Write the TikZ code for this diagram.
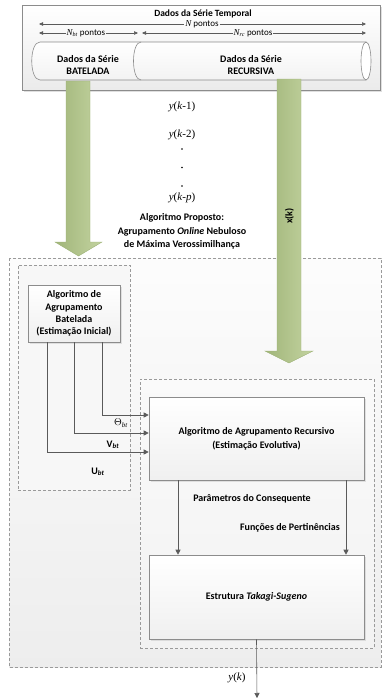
\documentclass[tikz,border=0pt]{standalone}
\usepackage{fontspec}
\setmainfont{Carlito}
\newfontfamily\tms{Liberation Serif}
\usetikzlibrary{arrows.meta,shadows}
\definecolor{lineg}{HTML}{5A5A5A}
\definecolor{boxb}{HTML}{8C8C8C}
\definecolor{dashg}{HTML}{9A9A9A}
\definecolor{grn}{HTML}{B4C78C}
\definecolor{grnl}{HTML}{C3D3A0}
\definecolor{grnd}{HTML}{9CB175}
\tikzset{
  sbox/.style={draw=boxb, line width=0.6pt, top color=white, bottom color=black!6,
    drop shadow={opacity=0.2, shadow xshift=1.5pt, shadow yshift=-1.5pt},
    align=center, inner sep=0pt, font=\fontsize{10}{12.3}\selectfont\bfseries},
  dbox/.style={draw=dashg, dashed, dash pattern=on 3pt off 2pt, line width=0.6pt},
  conn/.style={draw=lineg, line width=0.6pt, -{Triangle[length=5pt,width=5pt]}},
  dim/.style={draw=lineg, line width=0.5pt, -{Triangle[length=4pt,width=3.5pt]}},
  lbl/.style={font=\fontsize{10}{12}\selectfont\bfseries, inner sep=1pt},
  tlbl/.style={font=\fontsize{11}{12}\selectfont\tms, inner sep=1pt},
  garrow/.style={left color=grnd!80!grn, right color=grnl, draw=grnd, line width=0.4pt},
}
\begin{document}
\begin{tikzpicture}[x=1pt,y=-1pt]
\useasboundingbox (0,0) rectangle (382,699);
\fill[white] (0,0) rectangle (382,699);

% outer dashed box
\path[dbox, top color=black!1, bottom color=black!7] (9,258) rectangle (381,667);
\node[dbox, fill=black!3, minimum width=112pt, minimum height=225pt, inner sep=0pt] (ldash) at (74,377.5) {};
\node[dbox, top color=black!2, bottom color=black!5, minimum width=234pt, minimum height=269pt, inner sep=0pt] (rdash) at (257,513.5) {};

% top box
\node[draw=boxb, line width=0.6pt, top color=white, bottom color=black!8,
  drop shadow={opacity=0.25, shadow xshift=2pt, shadow yshift=-2pt},
  minimum width=358pt, minimum height=85pt, inner sep=0pt] (top) at (201,47.5) {};
\node[lbl, inner sep=0pt, font=\fontsize{9.5}{11}\selectfont\bfseries] (ttl) at (203,13.5) {Dados da Série Temporal};

% cylinder
\path[draw=boxb, line width=0.6pt, top color=white, bottom color=black!5]
  (40,42) -- (366,42) -- (366,80) -- (40,80) .. controls (29,80) and (29,42) .. (40,42) -- cycle;
\draw[boxb, line width=0.6pt, fill=white] (366,61) ellipse [x radius=5pt, y radius=19pt];
\draw[boxb, line width=0.6pt] (141,42) .. controls (131,42) and (131,80) .. (141,80);
\node[lbl, align=center, font=\fontsize{10}{12}\selectfont\bfseries] (cbat) at (88,65) {Dados da Série\\BATELADA};
\node[lbl, align=center, font=\fontsize{10}{12}\selectfont\bfseries] (crec) at (251,65) {Dados da Série\\RECURSIVA};

% dimension arrows
\coordinate (nl) at (39,24);
\coordinate (nr) at (366,24);
\node[font=\fontsize{9}{10}\selectfont, inner sep=0pt] (np) at (202,24) {{\tms\itshape N} pontos};
\draw[dim] ([xshift=-1pt]np.west) -- (nl);
\draw[dim] ([xshift=1pt]np.east) -- (nr);
\coordinate (bl) at (39,33);
\coordinate (br) at (138,33);
\coordinate (rl) at (142,33);
\coordinate (rr) at (366,33);
\node[font=\fontsize{9}{10}\selectfont, inner sep=0.5pt] (nb) at (86,33) {{\tms\itshape N\textsubscript{bt}} pontos};
\node[font=\fontsize{9}{10}\selectfont, inner sep=0.5pt] (nrc) at (253,33) {{\tms\itshape N\textsubscript{rc}} pontos};
\draw[dim] (nb.west) -- (bl);
\draw[dim] (nb.east) -- (br);
\draw[dim] (nrc.west) -- (rl);
\draw[dim] (nrc.east) -- (rr);

% green arrows
\path[garrow] (66,81) -- (90,81) -- (90,242) -- (102,242) -- (78.5,256) -- (55,242) -- (66,242) -- cycle;
\path[garrow] (277,79) -- (301,79) -- (301,351) -- (313,351) -- (289,363) -- (265,351) -- (277,351) -- cycle;
\node[lbl, rotate=90] (xk) at (289.5,216) {x(k)};

% middle texts
\node[tlbl] (y1) at (182,107) {\textit{y}(\textit{k}-1)};
\node[tlbl] (y2) at (182,135) {\textit{y}(\textit{k}-2)};
\fill[black] (182,149) circle (0.9pt);
\fill[black] (182,167.5) circle (0.9pt);
\fill[black] (182,186) circle (0.9pt);
\node[tlbl] (yp) at (182,198) {\textit{y}(\textit{k}-\textit{p})};
\node[lbl, align=center, font=\fontsize{10}{13.5}\selectfont\bfseries] (alg) at (182,231.5)
  {Algoritmo Proposto:\\Agrupamento \textit{Online} Nebuloso\\de Máxima Verossimilhança};

% boxes
\node[sbox, minimum width=92pt, minimum height=57pt] (bat) at (74,313.5)
  {Algoritmo de\\Agrupamento\\Batelada\\(Estimação Inicial)};
\node[sbox, minimum width=215pt, minimum height=83pt, font=\fontsize{10}{14}\selectfont\bfseries] (rec) at (256.5,438.5)
  {Algoritmo de Agrupamento Recursivo\\(Estimação Evolutiva)};
\node[sbox, minimum width=215pt, minimum height=84pt] (ts) at (256.5,597)
  {Estrutura \textit{Takagi-Sugeno}};

% connectors batelada -> recursivo
\draw[conn] ([xshift=28pt]bat.south) |- ([yshift=23.5pt]rec.west);
\draw[conn] ([xshift=0pt]bat.south) |- ([yshift=5.5pt]rec.west);
\draw[conn] ([xshift=-27pt]bat.south) |- ([yshift=-13.5pt]rec.west);
\node[lbl, font=\fontsize{10}{10}\selectfont] (th) at (121,423) {\tms$\Theta$\textsubscript{\textit{bt}}};
\node[lbl] (vb) at (113,445) {V\textsubscript{\textit{bt}}};
\node[lbl] (ub) at (98,472) {U\textsubscript{\textit{bt}}};

% recursivo -> TS
\draw[conn] ([xshift=-78.5pt]rec.south) -- ([xshift=-78.5pt]ts.north);
\draw[conn] ([xshift=89.5pt]rec.south) -- ([xshift=89.5pt]ts.north);
\node[lbl] (pc) at (252,499) {Parâmetros do Consequente};
\node[lbl] (fp) at (290,528) {Funções de Pertinências};

% output
\coordinate (out) at (257,698);
\draw[conn] (ts.south) -- (out);
\node[tlbl] (yk) at (237,678) {\textit{y}(\textit{k})};
\end{tikzpicture}
\end{document}
